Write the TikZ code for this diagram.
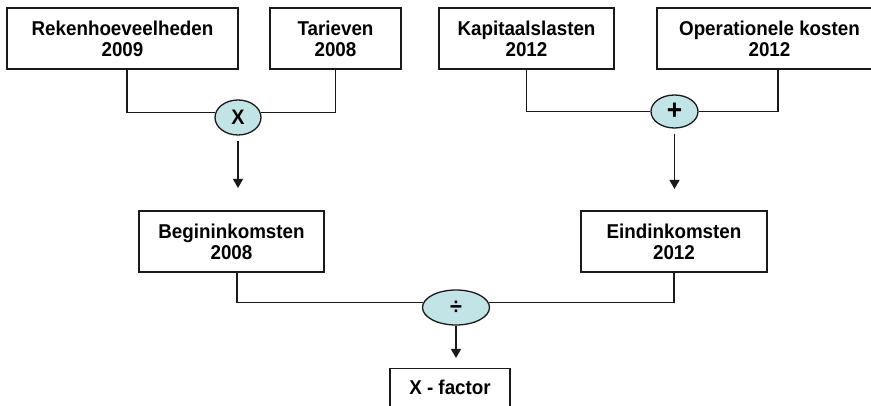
\documentclass[tikz,border=0pt]{standalone}
\usepackage{fontspec}
\setmainfont{Liberation Sans}[FakeStretch=0.94]
\usetikzlibrary{shapes.geometric,arrows.meta}
\definecolor{opfill}{HTML}{C3E4E7}
\definecolor{lineclr}{HTML}{1A1A1A}
\begin{document}
\begin{tikzpicture}[x=1pt,y=-1pt,
  box/.style={draw=lineclr, line width=1.3pt, rectangle, align=center,
    font=\fontsize{20}{21}\selectfont\bfseries, minimum height=61pt, inner sep=0pt},
  op/.style={ellipse, draw=lineclr, line width=1.3pt, fill=opfill, inner sep=0pt,
    font=\fontsize{19}{21}\selectfont\bfseries},
  link/.style={draw=lineclr, line width=1.1pt},
  flow/.style={link, -{Triangle[length=9pt,width=10pt]}}]
\clip (0,0) rectangle (871,406);

% input quantities
\node[box, minimum width=231pt] (rek) at (122.5,38.5) {Rekenhoeveelheden\\2009};
\node[box, minimum width=131pt] (tar) at (335.5,38.5) {Tarieven\\2008};
\node[box, minimum width=175pt] (kap) at (526.5,38.5) {Kapitaalslasten\\2012};
\node[box, minimum width=225pt] (ope) at (769.5,38.5) {Operationele kosten\\2012};

% intermediate results
\node[box, minimum width=185pt] (beg) at (231.5,241.5) {Begininkomsten\\2008};
\node[box, minimum width=186pt] (ein) at (674,241.5) {Eindinkomsten\\2012};

% final result
\node[box, anchor=north, minimum width=120pt, minimum height=0pt,
  text height=14pt, text depth=30pt, inner ysep=12pt] (xf) at (450,368) {X - factor};

% operators
\node[op, minimum width=46pt, minimum height=35pt, font=\fontsize{21}{21}\selectfont\bfseries] (mul) at (238,117.5) {X};
\node[op, minimum width=47pt, minimum height=33pt, font=\fontsize{28}{28}\selectfont\bfseries] (add) at (674.5,111.5) {+};
\node[op, minimum width=67pt, minimum height=35pt, font=\fontsize{23}{23}\selectfont\bfseries] (dvd) at (456,307.5) {÷};

% arrow ends
\coordinate (mulend) at (238,188);
\coordinate (addend) at (674.5,189);

% connectors
\draw[link] ([xshift=4.5pt]rek.south) |- (mul.168);
\draw[link] (tar.south) |- (mul.12);
\draw[flow] ([yshift=-5pt]mul.south) -- (mulend);

\draw[link] (kap.south) |- (add.west);
\draw[link] ([xshift=8.5pt]ope.south) |- (add.east);
\draw[flow] ([yshift=-5pt]add.south) -- (addend);

\draw[link] ([xshift=5.5pt]beg.south) |- (dvd.172);
\draw[link] (ein.south) |- (dvd.8);
\draw[flow, shorten >=10pt] (dvd.south) -- (dvd.south |- xf.north);
\end{tikzpicture}
\end{document}
